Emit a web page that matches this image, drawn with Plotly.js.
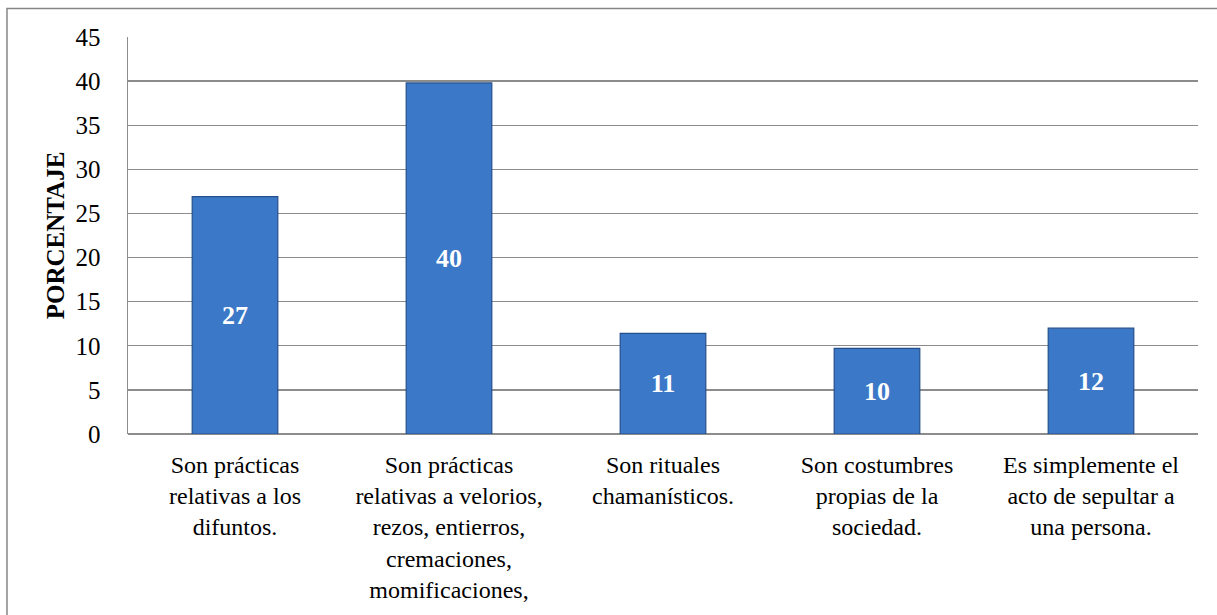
<!DOCTYPE html>
<html>
<head>
<meta charset="utf-8">
<script src="https://cdn.plot.ly/plotly-3.0.1.min.js"></script>
<style>html,body{margin:0;padding:0;background:#fff;}#chart{width:1217px;height:615px;}</style>
</head>
<body>
<div id="chart"></div>
<script>
// Data
var categories = [
  "Son prácticas<br>relativas a los<br>difuntos.",
  "Son prácticas<br>relativas a velorios,<br>rezos, entierros,<br>cremaciones,<br>momificaciones,",
  "Son rituales<br>chamanísticos.",
  "Son costumbres<br>propias de la<br>sociedad.",
  "Es simplemente el<br>acto de sepultar a<br>una persona."
];
var values = [26.9, 39.8, 11.4, 9.7, 12.0];
var yTicks = [0, 5, 10, 15, 20, 25, 30, 35, 40, 45];
var yTitle = "PORCENTAJE";

var serif = "Liberation Serif";

var trace = {
  type: "bar",
  x: categories,
  y: values,
  texttemplate: "%{y:.0f}",
  textposition: "inside",
  insidetextanchor: "middle",
  textangle: 0,
  textfont: {family: serif, size: 26, color: "#ffffff", weight: "bold"},
  marker: {color: "#3b78c8", line: {color: "#244f8a", width: 1.2}},
  hoverinfo: "skip"
};

var layout = {
  width: 1217, height: 615,
  margin: {l: 128, r: 19, t: 37, b: 181, pad: 0},
  paper_bgcolor: "#ffffff",
  plot_bgcolor: "#ffffff",
  font: {family: serif},
  showlegend: false,
  bargap: 0.6,
  xaxis: {
    type: "category",
    showticklabels: true,
    tickangle: 0,
    tickfont: {family: serif, size: 24, color: "#000000"},
    ticklabelstandoff: 14,
    showgrid: false,
    showline: false,
    zeroline: false,
    ticks: "",
    automargin: false,
    fixedrange: true
  },
  yaxis: {
    range: [0, 45],
    tickmode: "array",
    tickvals: yTicks,
    ticktext: yTicks.map(String),
    showgrid: true,
    gridcolor: "#8c8c8c",
    gridwidth: 1.4,
    zeroline: true,
    zerolinecolor: "#8c8c8c",
    zerolinewidth: 1.4,
    showline: true,
    linecolor: "#8c8c8c",
    linewidth: 1.4,
    ticks: "",
    ticklabelstandoff: 21,
    tickfont: {family: serif, size: 25, color: "#000000"},
    title: {text: yTitle, font: {family: serif, size: 25, color: "#000000", weight: "bold"}, standoff: 4},
    automargin: false,
    fixedrange: true
  },
  shapes: [{
    type: "rect", xref: "paper", yref: "paper",
    x0: -0.1131, x1: 1.03, y0: -0.48, y1: 1.072,
    line: {color: "#868686", width: 1.5},
    fillcolor: "rgba(0,0,0,0)",
    layer: "below"
  }]
};

Plotly.newPlot("chart", [trace], layout, {displayModeBar: false, staticPlot: true});
</script>
</body>
</html>
